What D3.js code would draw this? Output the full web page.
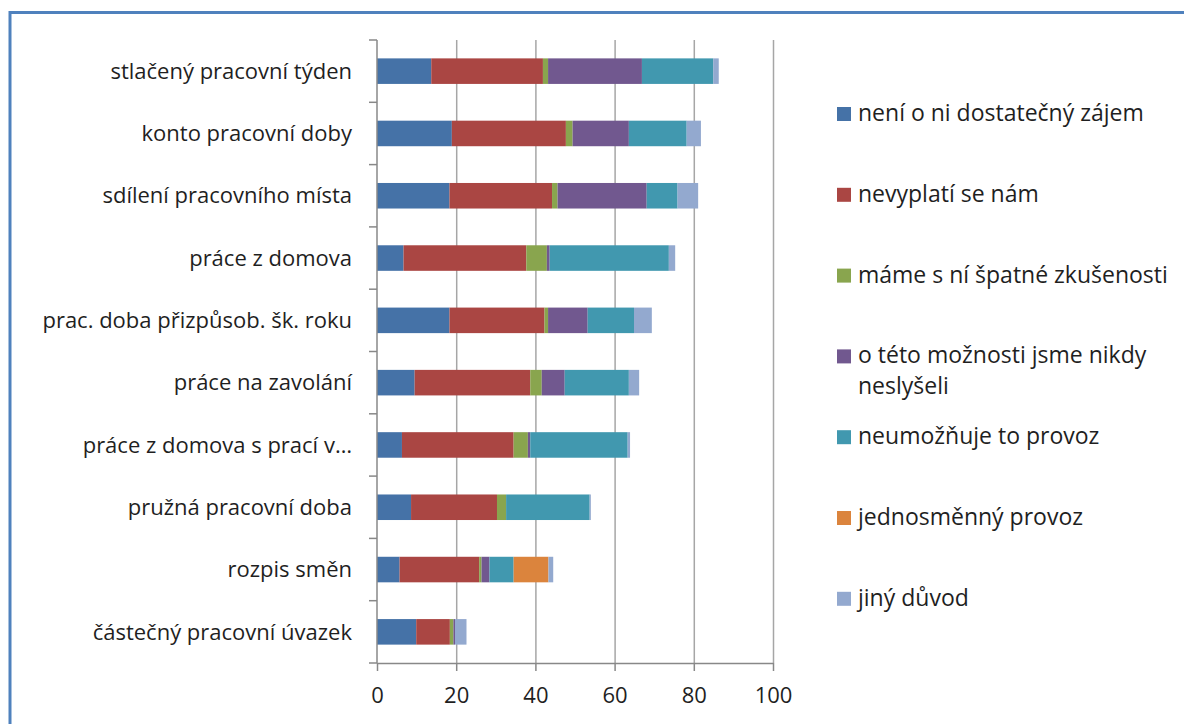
<!DOCTYPE html>
<html>
<head>
<meta charset="utf-8">
<script src="https://cdn.jsdelivr.net/npm/d3@7"></script>
<style>
  body { margin: 0; background: #fff; }
  text { font-family: "Open Sans", "Liberation Sans", sans-serif; fill: #1f1f1f; }
</style>
</head>
<body>
<div id="chart-area"></div>
<script>
const categories = [
	"stlačený pracovní týden",
	"konto pracovní doby",
	"sdílení pracovního místa",
	"práce z domova",
	"prac. doba přizpůsob. šk. roku",
	"práce na zavolání",
	"práce z domova s prací v…",
	"pružná pracovní doba",
	"rozpis směn",
	"částečný pracovní úvazek"
]

const seriesNames = [
	"není o ni dostatečný zájem",
	"nevyplatí se nám",
	"máme s ní špatné zkušenosti",
	"o této možnosti jsme nikdy neslyšeli",
	"neumožňuje to provoz",
	"jednosměnný provoz",
	"jiný důvod"
]

// one array per series, values in category order
const nezajem    = [13.7, 18.9, 18.3, 6.7, 18.3, 9.5, 6.3, 8.6, 5.7, 9.9]
const nevyplati  = [28.2, 28.8, 25.9, 31.0, 24.0, 29.2, 28.2, 21.7, 20.1, 8.5]
const spatne     = [1.3, 1.7, 1.4, 5.2, 0.9, 2.9, 3.6, 2.3, 0.6, 0.9]
const neslyseli  = [23.7, 14.2, 22.5, 0.7, 10.0, 5.8, 0.6, 0, 2.0, 0.4]
const provoz     = [18.0, 14.6, 7.8, 30.1, 11.7, 16.2, 24.6, 21.1, 6.1, 0]
const jednosmen  = [0, 0, 0, 0, 0, 0, 0, 0, 8.8, 0]
const jiny       = [1.4, 3.6, 5.2, 1.6, 4.5, 2.6, 0.6, 0.3, 1.2, 2.9]

const xTicks = [0, 20, 40, 60, 80, 100]
const colors = ["#4572A7", "#AA4643", "#89A54E", "#71588F", "#4198AF", "#DB843D", "#93A9CF"]

const W = 1184, H = 724
const MARGIN = { LEFT: 377, RIGHT: 411, TOP: 40, BOTTOM: 61 }
const WIDTH = W - MARGIN.LEFT - MARGIN.RIGHT
const HEIGHT = H - MARGIN.TOP - MARGIN.BOTTOM

const svg = d3.select("#chart-area").append("svg")
	.attr("width", W)
	.attr("height", H)

// outer frame (only top and left visible)
svg.append("rect")
	.attr("x", 10)
	.attr("y", 12.5)
	.attr("width", W + 20)
	.attr("height", H + 20)
	.attr("fill", "none")
	.attr("stroke", "#4F81BD")
	.attr("stroke-width", 3)

const g = svg.append("g")
	.attr("transform", `translate(${MARGIN.LEFT}, ${MARGIN.TOP})`)

const table = categories.map((c, i) => {
	const row = { cat: c }
	const cols = [nezajem, nevyplati, spatne, neslyseli, provoz, jednosmen, jiny]
	seriesNames.forEach((s, k) => { row[s] = cols[k][i] })
	return row
})

const stacked = d3.stack().keys(seriesNames)(table)

const x = d3.scaleLinear().domain([0, 100]).range([0, WIDTH])
const y = d3.scaleBand().domain(categories).range([0, HEIGHT]).paddingInner(0.59).paddingOuter(0.295)
const yb = d3.scaleBand().domain(categories).range([0, HEIGHT])

// gridlines
g.selectAll(".grid")
	.data(xTicks.slice(1))
	.enter().append("line")
	.attr("x1", d => x(d) + 0.5)
	.attr("x2", d => x(d) + 0.5)
	.attr("y1", 0)
	.attr("y2", HEIGHT)
	.attr("stroke", "#a6a6a6")
	.attr("stroke-width", 1.5)

// bars
g.selectAll(".series")
	.data(stacked)
	.enter().append("g")
	.attr("fill", (d, i) => colors[i])
	.selectAll("rect")
	.data(d => d)
	.enter().append("rect")
	.attr("x", d => x(d[0]))
	.attr("width", d => x(d[1]) - x(d[0]))
	.attr("y", d => y(d.data.cat))
	.attr("height", y.bandwidth())

// x axis
const xAxis = g.append("g")
	.attr("transform", `translate(0, ${HEIGHT})`)
	.call(d3.axisBottom(x).tickValues(xTicks).tickSize(8).tickSizeOuter(0))
xAxis.select(".domain").attr("stroke", "#888").attr("stroke-width", 1.5)
xAxis.selectAll(".tick line").attr("stroke", "#888").attr("stroke-width", 1.5)
xAxis.selectAll("text")
	.attr("font-size", "22px")
	.attr("dy", "1.3em")
	.attr("fill", "#1f1f1f")

// y axis with ticks at band edges
const yAxis = g.append("g")
yAxis.append("line")
	.attr("x1", 0).attr("x2", 0)
	.attr("y1", 0).attr("y2", HEIGHT)
	.attr("stroke", "#888").attr("stroke-width", 1.5)
yAxis.selectAll(".ytick")
	.data(categories.concat([null]))
	.enter().append("line")
	.attr("x1", -8).attr("x2", 0)
	.attr("y1", (d, i) => i * yb.step())
	.attr("y2", (d, i) => i * yb.step())
	.attr("stroke", "#888").attr("stroke-width", 1.5)
yAxis.selectAll(".ylabel")
	.data(categories)
	.enter().append("text")
	.attr("x", -25)
	.attr("y", d => yb(d) + yb.bandwidth() / 2)
	.attr("dy", "0.35em")
	.attr("text-anchor", "end")
	.attr("font-size", "22px")
	.text(d => d)

// legend
const legend = svg.append("g")
	.attr("transform", "translate(837, 113)")
const legendRows = seriesNames.map((s, i) => ({
	name: s,
	lines: i === 3 ? ["o této možnosti jsme nikdy", "neslyšeli"] : [s]
}))
const rows = legend.selectAll(".legend-row")
	.data(legendRows)
	.enter().append("g")
	.attr("transform", (d, i) => `translate(0, ${i * 80.8})`)
rows.append("rect")
	.attr("x", 0)
	.attr("y", -6)
	.attr("width", 14)
	.attr("height", 14)
	.attr("fill", (d, i) => colors[i])
rows.append("text")
	.attr("x", 21)
	.attr("font-size", "23px")
	.selectAll("tspan")
	.data(d => d.lines)
	.enter().append("tspan")
	.attr("x", 21)
	.attr("y", (d, i) => i * 31)
	.attr("dy", "0.35em")
	.text(d => d)
</script>
</body>
</html>
